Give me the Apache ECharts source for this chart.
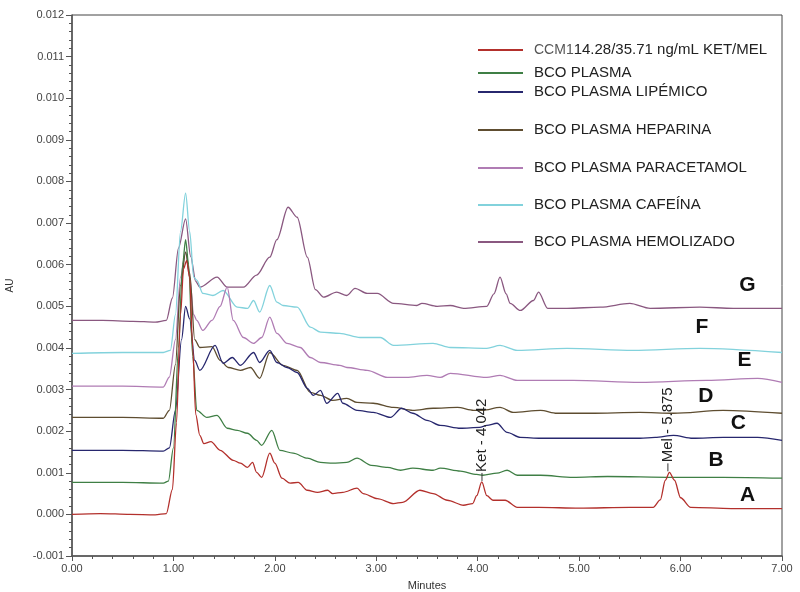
<!DOCTYPE html>
<html>
<head>
<meta charset="utf-8">
<script src="https://cdn.jsdelivr.net/npm/echarts@6/dist/echarts.min.js"></script>
<style>
html,body{margin:0;padding:0;background:#fff;}
#chart{width:800px;height:592px;}
</style>
</head>
<body>
<div id="chart"></div>
<script>
// ---- data: [minutes, AU] ----
const seriesNames = [
  'CCM114.28/35.71 ng/mL KET/MEL',
  'BCO PLASMA',
  'BCO PLASMA LIPÉMICO',
  'BCO PLASMA HEPARINA',
  'BCO PLASMA PARACETAMOL',
  'BCO PLASMA CAFEÍNA',
  'BCO PLASMA HEMOLIZADO'
];
const curveLetters = ['A','B','C','D','E','F','G'];

const traceA = [[0,0.00000],[0.28,0.00002],[0.57,0.00000],[0.82,-0.00001],[0.93,0.00002],[0.99,0.0006],[1.03,0.0022],[1.07,0.0048],[1.10,0.0059],[1.13,0.0061],[1.16,0.0057],[1.19,0.0040],[1.22,0.0024],[1.26,0.0019],[1.30,0.0017],[1.37,0.00175],[1.46,0.00154],[1.59,0.00130],[1.66,0.00123],[1.73,0.00113],[1.78,0.00125],[1.82,0.00101],[1.87,0.00089],[1.95,0.00147],[2.00,0.00123],[2.07,0.00087],[2.15,0.00075],[2.23,0.00077],[2.32,0.00058],[2.42,0.00053],[2.52,0.00058],[2.57,0.00050],[2.67,0.00053],[2.81,0.00063],[2.87,0.00050],[3.01,0.00038],[3.17,0.00026],[3.26,0.00029],[3.43,0.00058],[3.56,0.00050],[3.70,0.00034],[3.86,0.00022],[3.95,0.00026],[3.99,0.00045],[4.04,0.00078],[4.09,0.00045],[4.15,0.00034],[4.27,0.00034],[4.39,0.00017],[4.60,0.00017],[5.00,0.00015],[5.50,0.00017],[5.73,0.00017],[5.80,0.00035],[5.85,0.00082],[5.89,0.00101],[5.94,0.00082],[6.00,0.00040],[6.10,0.00017],[6.50,0.00014],[7.00,0.00014]];

const traceB = [[0,0.00077],[0.50,0.00077],[0.90,0.00075],[0.95,0.0008],[1.00,0.0016],[1.05,0.0040],[1.09,0.0060],[1.12,0.0066],[1.15,0.0060],[1.19,0.0038],[1.23,0.0025],[1.33,0.00233],[1.43,0.00238],[1.53,0.00207],[1.63,0.00202],[1.73,0.00195],[1.82,0.00178],[1.87,0.00166],[1.97,0.00202],[2.05,0.00154],[2.18,0.00147],[2.32,0.00135],[2.45,0.00125],[2.57,0.00123],[2.71,0.00125],[2.81,0.00135],[2.95,0.00118],[3.11,0.00113],[3.24,0.00106],[3.36,0.00111],[3.56,0.00106],[3.63,0.00111],[3.83,0.00104],[3.99,0.00096],[4.05,0.00094],[4.19,0.00099],[4.29,0.00106],[4.39,0.00094],[4.62,0.00094],[4.94,0.00089],[5.28,0.00091],[5.93,0.00089],[6.42,0.00089],[7.00,0.00087]];

const traceC = [[0,0.00154],[0.50,0.00154],[0.90,0.00152],[0.96,0.0016],[1.02,0.0025],[1.08,0.0042],[1.12,0.0050],[1.16,0.0047],[1.21,0.0037],[1.26,0.00346],[1.41,0.00406],[1.49,0.00363],[1.58,0.00377],[1.66,0.00358],[1.79,0.00389],[1.85,0.00365],[1.95,0.00394],[2.02,0.00365],[2.12,0.00353],[2.22,0.00341],[2.32,0.00303],[2.38,0.00286],[2.45,0.00298],[2.51,0.00267],[2.62,0.00291],[2.67,0.00267],[2.81,0.00250],[2.97,0.00245],[3.14,0.00233],[3.25,0.00255],[3.36,0.00243],[3.50,0.00226],[3.63,0.00214],[3.83,0.00207],[4.02,0.00209],[4.09,0.00214],[4.19,0.00219],[4.29,0.00197],[4.42,0.00185],[4.62,0.00183],[5.00,0.00183],[5.60,0.00183],[5.75,0.00185],[5.93,0.00190],[6.12,0.00183],[6.42,0.00185],[6.76,0.00185],[7.00,0.00178]];

const traceD = [[0,0.00233],[0.50,0.00233],[0.90,0.00231],[0.96,0.0025],[1.02,0.0036],[1.07,0.0055],[1.12,0.0063],[1.16,0.0058],[1.21,0.0042],[1.26,0.00401],[1.38,0.00403],[1.46,0.00370],[1.54,0.00353],[1.66,0.00346],[1.76,0.00353],[1.85,0.00327],[1.95,0.00389],[2.08,0.00358],[2.22,0.00346],[2.35,0.00293],[2.45,0.00286],[2.57,0.00274],[2.71,0.00279],[2.81,0.00269],[2.97,0.00267],[3.17,0.00257],[3.36,0.00250],[3.56,0.00255],[3.80,0.00257],[3.96,0.00250],[4.05,0.00250],[4.22,0.00257],[4.35,0.00245],[4.62,0.00250],[4.78,0.00243],[5.11,0.00243],[5.60,0.00245],[5.93,0.00243],[6.42,0.00250],[7.00,0.00243]];

const traceE = [[0,0.00308],[0.50,0.00308],[0.90,0.00306],[0.96,0.0033],[1.02,0.0042],[1.07,0.0057],[1.12,0.0063],[1.16,0.0057],[1.20,0.0048],[1.23,0.00466],[1.29,0.00442],[1.38,0.00466],[1.46,0.0050],[1.53,0.00546],[1.59,0.00466],[1.69,0.00425],[1.79,0.00411],[1.87,0.00425],[1.95,0.00474],[2.02,0.00435],[2.12,0.00411],[2.25,0.00401],[2.35,0.00377],[2.45,0.00365],[2.64,0.00358],[2.71,0.00353],[2.91,0.00346],[3.11,0.00329],[3.30,0.00329],[3.50,0.00334],[3.63,0.00329],[3.73,0.00339],[4.09,0.00329],[4.22,0.00334],[4.39,0.00322],[4.94,0.00322],[5.60,0.00317],[6.26,0.00322],[6.76,0.00327],[7.00,0.00317]];

const traceF = [[0,0.00387],[0.50,0.00389],[0.90,0.00389],[0.97,0.00394],[1.02,0.0048],[1.07,0.0068],[1.12,0.00772],[1.16,0.0068],[1.20,0.0057],[1.23,0.00563],[1.29,0.00531],[1.39,0.00526],[1.49,0.00538],[1.63,0.00498],[1.73,0.00495],[1.79,0.00514],[1.85,0.00486],[1.95,0.00550],[2.02,0.00510],[2.08,0.00502],[2.22,0.00498],[2.35,0.00450],[2.45,0.00438],[2.64,0.00435],[2.84,0.00425],[3.04,0.00425],[3.17,0.00406],[3.56,0.00411],[3.73,0.00401],[4.09,0.00399],[4.22,0.00406],[4.39,0.00394],[4.88,0.00399],[5.53,0.00394],[6.19,0.00399],[7.00,0.00389]];

const traceG = [[0,0.00466],[0.30,0.00466],[0.60,0.00464],[0.82,0.00462],[0.93,0.00466],[0.99,0.0052],[1.05,0.0064],[1.12,0.0071],[1.17,0.0062],[1.22,0.0056],[1.26,0.00546],[1.43,0.00570],[1.53,0.00546],[1.69,0.00546],[1.82,0.00575],[1.95,0.00618],[2.02,0.00660],[2.13,0.00738],[2.22,0.00714],[2.32,0.00618],[2.40,0.00540],[2.48,0.00522],[2.61,0.00534],[2.71,0.00526],[2.79,0.00543],[2.91,0.00531],[3.01,0.00531],[3.17,0.00507],[3.40,0.00502],[3.45,0.00507],[3.60,0.00500],[3.73,0.00502],[3.86,0.00495],[4.09,0.00500],[4.16,0.0053],[4.22,0.0057],[4.28,0.0053],[4.32,0.00507],[4.42,0.00490],[4.55,0.00514],[4.60,0.00534],[4.69,0.00495],[4.88,0.00495],[5.21,0.00498],[5.50,0.00507],[5.70,0.00495],[6.19,0.00498],[6.52,0.00495],[7.00,0.00495]];

const peakLabels = ['Ket - 4.042', 'Mel - 5.875'];
const peakTimes = [4.042, 5.875];
const peakValues = [0.00078, 0.00101];

// ---- rendering ----
const traces = [traceA, traceB, traceC, traceD, traceE, traceF, traceG];
const colors = ['#b3302c', '#3f7f45', '#27276e', '#5e4d30', '#b07cb4', '#82d2dc', '#8a5880'];
const legendCenters = [50, 73, 92, 130, 168, 205, 242];
const letterPos = [[6.66,0.00046],[6.35,0.00130],[6.57,0.00219],[6.25,0.00284],[6.63,0.00370],[6.21,0.00450],[6.66,0.00550]];
const FONT = 'Liberation Sans, Arial, sans-serif';

const chart = echarts.init(document.getElementById('chart'), null, {renderer: 'canvas'});

const option = {
  animation: false,
  backgroundColor: '#fff',
  grid: {left: 72, right: 18, top: 15, bottom: 36, show: true, borderColor: '#444', borderWidth: 1,
         containLabel: false, outerBoundsMode: 'none'},
  xAxis: {
    type: 'value', min: 0, max: 7, interval: 1,
    name: 'Minutes', nameLocation: 'middle', nameGap: 24,
    nameTextStyle: {fontSize: 11, color: '#333', fontFamily: FONT},
    axisLine: {show: true, onZero: false, lineStyle: {color: '#555', width: 1.5}},
    axisTick: {show: true, length: 5, lineStyle: {color: '#555'}},
    minorTick: {show: true, splitNumber: 5, length: 3, lineStyle: {color: '#555'}},
    splitLine: {show: false},
    axisLabel: {formatter: v => v.toFixed(2), fontSize: 11, color: '#444', margin: 7, fontFamily: FONT}
  },
  yAxis: {
    type: 'value', min: -0.001, max: 0.012, interval: 0.001,
    name: 'AU', nameLocation: 'middle', nameGap: 57, nameRotate: 90,
    nameTextStyle: {fontSize: 10, color: '#333', fontFamily: FONT},
    axisLine: {show: true, onZero: false, lineStyle: {color: '#555', width: 1.5}},
    axisTick: {show: true, length: 6, lineStyle: {color: '#555'}},
    minorTick: {show: true, splitNumber: 5, length: 3, lineStyle: {color: '#555'}},
    splitLine: {show: false},
    axisLabel: {formatter: v => (Math.abs(v) < 1e-9 ? 0 : v).toFixed(3), fontSize: 11, color: '#444', margin: 8, fontFamily: FONT}
  },
  legend: seriesNames.map((n, i) => ({
    data: [n], left: 478, top: legendCenters[i] - 8, padding: 0,
    itemWidth: 45, itemHeight: 2, icon: 'rect', selectedMode: false,
    formatter: i === 0 ? () => '{a|CCM1}{b|14.28/35.71 ng/mL KET/MEL}' : undefined,
    textStyle: {
      fontSize: 15, color: '#222', fontFamily: FONT, lineHeight: 16, padding: [0, 0, 0, 6],
      rich: {
        a: {fontSize: 14, color: '#555', fontFamily: FONT, lineHeight: 16},
        b: {fontSize: 15, color: '#222', fontFamily: FONT, lineHeight: 16}
      }
    }
  })),
  series: traces.map((d, i) => ({
    name: seriesNames[i], type: 'line', data: d, showSymbol: false,
    smooth: 0.3, smoothMonotone: 'x', color: colors[i],
    lineStyle: {width: 1.3, color: colors[i]}, z: 2 + (6 - i)
  }))
};
chart.setOption(option);

// annotations and curve letters positioned through the chart's own scales
const graphics = [];
peakLabels.forEach((txt, i) => {
  const p = chart.convertToPixel({gridIndex: 0}, [peakTimes[i], peakValues[i]]);
  graphics.push({type: 'line', shape: {x1: p[0], y1: p[1] - 1, x2: p[0], y2: p[1] - 9}, style: {stroke: '#333', lineWidth: 1}, z: 100});
  graphics.push({type: 'text', x: p[0], y: p[1] - 10, rotation: Math.PI / 2,
    style: {text: txt, fontSize: 15, fontFamily: FONT, fill: '#222', textAlign: 'left', textVerticalAlign: 'middle'}, z: 100});
});
curveLetters.forEach((L, i) => {
  const p = chart.convertToPixel({gridIndex: 0}, letterPos[i]);
  graphics.push({type: 'text', x: p[0], y: p[1],
    style: {text: L, fontSize: 21, fontWeight: 'bold', fontFamily: FONT, fill: '#111', textAlign: 'center', textVerticalAlign: 'middle'}, z: 100});
});
chart.setOption({graphic: graphics});
</script>
</body>
</html>
